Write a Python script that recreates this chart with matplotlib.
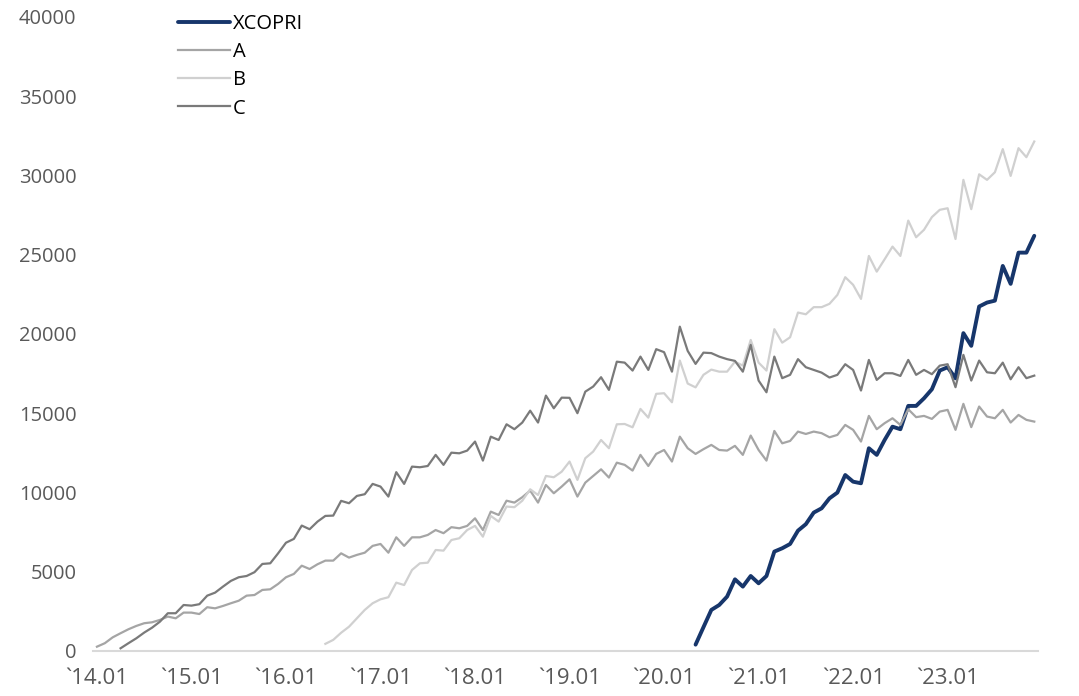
import numpy as np
import pandas as pd
import matplotlib
matplotlib.use("Agg")
import matplotlib.pyplot as plt

plt.rcParams['font.family'] = ['Open Sans', 'DejaVu Sans']

# monthly categories 2014.01 - 2023.12
months = pd.date_range("2014-01-01", "2023-12-01", freq="MS")
tick_labels = ["`14.01", "`15.01", "`16.01", "`17.01", "`18.01",
               "`19.01", "`20.01", "`21.01", "`22.01", "`23.01"]

# series values, each with the month index it starts at
a_start = 0
a_vals = [270, 490, 860, 1120, 1370, 1580, 1750, 1810, 1960, 2170, 2060, 2420,
          2420, 2330, 2760, 2690, 2840, 3010, 3170, 3490, 3530, 3850, 3890, 4230,
          4650, 4860, 5380, 5170, 5470, 5700, 5700, 6160, 5890, 6060, 6200, 6630,
          6750, 6200, 7170, 6630, 7170, 7170, 7320, 7630, 7430, 7810, 7740, 7890,
          8370, 7630, 8790, 8580, 9480, 9360, 9700, 10120, 9360, 10470, 9950, 10370,
          10830, 9740, 10620, 11040, 11460, 10940, 11880, 11740, 11380, 12370, 11670, 12430,
          12680, 11950, 13520, 12790, 12430, 12730, 13000, 12680, 12640, 12940, 12370, 13590,
          12680, 12010, 13880, 13100, 13250, 13840, 13690, 13840, 13740, 13480, 13630, 14260,
          13950, 13210, 14830, 13990, 14370, 14680, 14260, 15250, 14750, 14830, 14640, 15100,
          15210, 13950, 15590, 14120, 15420, 14790, 14680, 15210, 14410, 14890, 14580, 14470]

b_start = 29
b_vals = [450, 700, 1150, 1530, 2060, 2590, 3010,
          3260, 3390, 4310, 4160, 5110, 5530, 5570, 6370, 6330, 7000, 7110, 7630,
          7890, 7210, 8520, 8160, 9110, 9070, 9480, 10200, 9840, 11040, 10960, 11310,
          11950, 10790, 12160, 12580, 13310, 12790, 14300, 14320, 14110, 15270, 14720, 16220,
          16260, 15690, 18320, 16870, 16630, 17420, 17750, 17620, 17620, 18250, 18000, 19620,
          18190, 17690, 20300, 19450, 19790, 21350, 21240, 21690, 21690, 21900, 22460, 23580,
          23100, 22210, 24920, 23930, 24710, 25510, 24920, 27150, 26100, 26570, 27370, 27830,
          27930, 25990, 29720, 27870, 30070, 29720, 30200, 31660, 29970, 31720, 31150, 32140]

c_start = 3
c_vals = [170, 490, 800, 1160, 1470, 1850, 2380, 2380, 2900,
          2860, 2950, 3490, 3680, 4060, 4420, 4650, 4730, 4970, 5490, 5530, 6160,
          6830, 7070, 7910, 7680, 8160, 8520, 8540, 9470, 9320, 9780, 9890, 10540,
          10370, 9740, 11280, 10540, 11630, 11590, 11670, 12370, 11740, 12510, 12470, 12640,
          13210, 12010, 13520, 13310, 14300, 13990, 14410, 15160, 14410, 16110, 15310, 15980,
          15970, 15000, 16360, 16680, 17270, 16470, 18250, 18190, 17690, 18570, 17730, 19040,
          18850, 17620, 20460, 18930, 18110, 18820, 18790, 18570, 18410, 18300, 17620, 19310,
          17060, 16320, 18570, 17210, 17420, 18410, 17900, 17730, 17560, 17250, 17420, 18090,
          17730, 16430, 18360, 17100, 17520, 17520, 17350, 18360, 17420, 17730, 17460, 18000,
          18090, 16640, 18680, 17060, 18320, 17580, 17520, 18190, 17140, 17900, 17210, 17370]

x_start = 76
x_vals = [400, 1500, 2590, 2900, 3430, 4520, 4060, 4730,
          4270, 4730, 6270, 6480, 6750, 7590, 8000, 8730, 9000, 9630, 9990, 11100,
          10680, 10580, 12790, 12370, 13310, 14150, 13990, 15460, 15460, 15940, 16510, 17690,
          17900, 17200, 20050, 19250, 21730, 21980, 22100, 24290, 23160, 25130, 25130, 26190]

fig = plt.figure(figsize=(10.79, 6.96), dpi=100)
ax = fig.add_axes([0.0862, 0.0647, 0.876, 0.911])

def idx(start, vals):
    return np.arange(start, start + len(vals))

ax.plot(idx(x_start, x_vals), x_vals, color="#17366b", lw=2.8, label="XCOPRI", solid_capstyle="round")
ax.plot(idx(a_start, a_vals), a_vals, color="#a5a5a5", lw=1.6, label="A")
ax.plot(idx(b_start, b_vals), b_vals, color="#d0d0d0", lw=1.6, label="B")
ax.plot(idx(c_start, c_vals), c_vals, color="#7a7a7a", lw=1.6, label="C")

ax.set_xlim(-0.5, len(months) - 0.5)
ax.set_ylim(0, 40000)
ax.set_yticks(np.arange(0, 40001, 5000))
ax.set_xticks(np.arange(0, len(months), 12))
ax.set_xticklabels(tick_labels)

for s in ["top", "right", "left"]:
    ax.spines[s].set_visible(False)
ax.spines["bottom"].set_color("#d9d9d9")
ax.spines["bottom"].set_linewidth(1.5)
ax.tick_params(axis="both", length=0, labelcolor="#595959")
ax.tick_params(axis="y", pad=12, labelsize=14.5)
ax.tick_params(axis="x", pad=12, labelsize=16)

leg = ax.legend(loc="upper left", bbox_to_anchor=(0.09, 1.004), frameon=False,
                fontsize=14.5, handlelength=2.6, handletextpad=0.12,
                labelspacing=0.4, borderpad=0, borderaxespad=0)

fig.savefig("out.png", dpi=100)
